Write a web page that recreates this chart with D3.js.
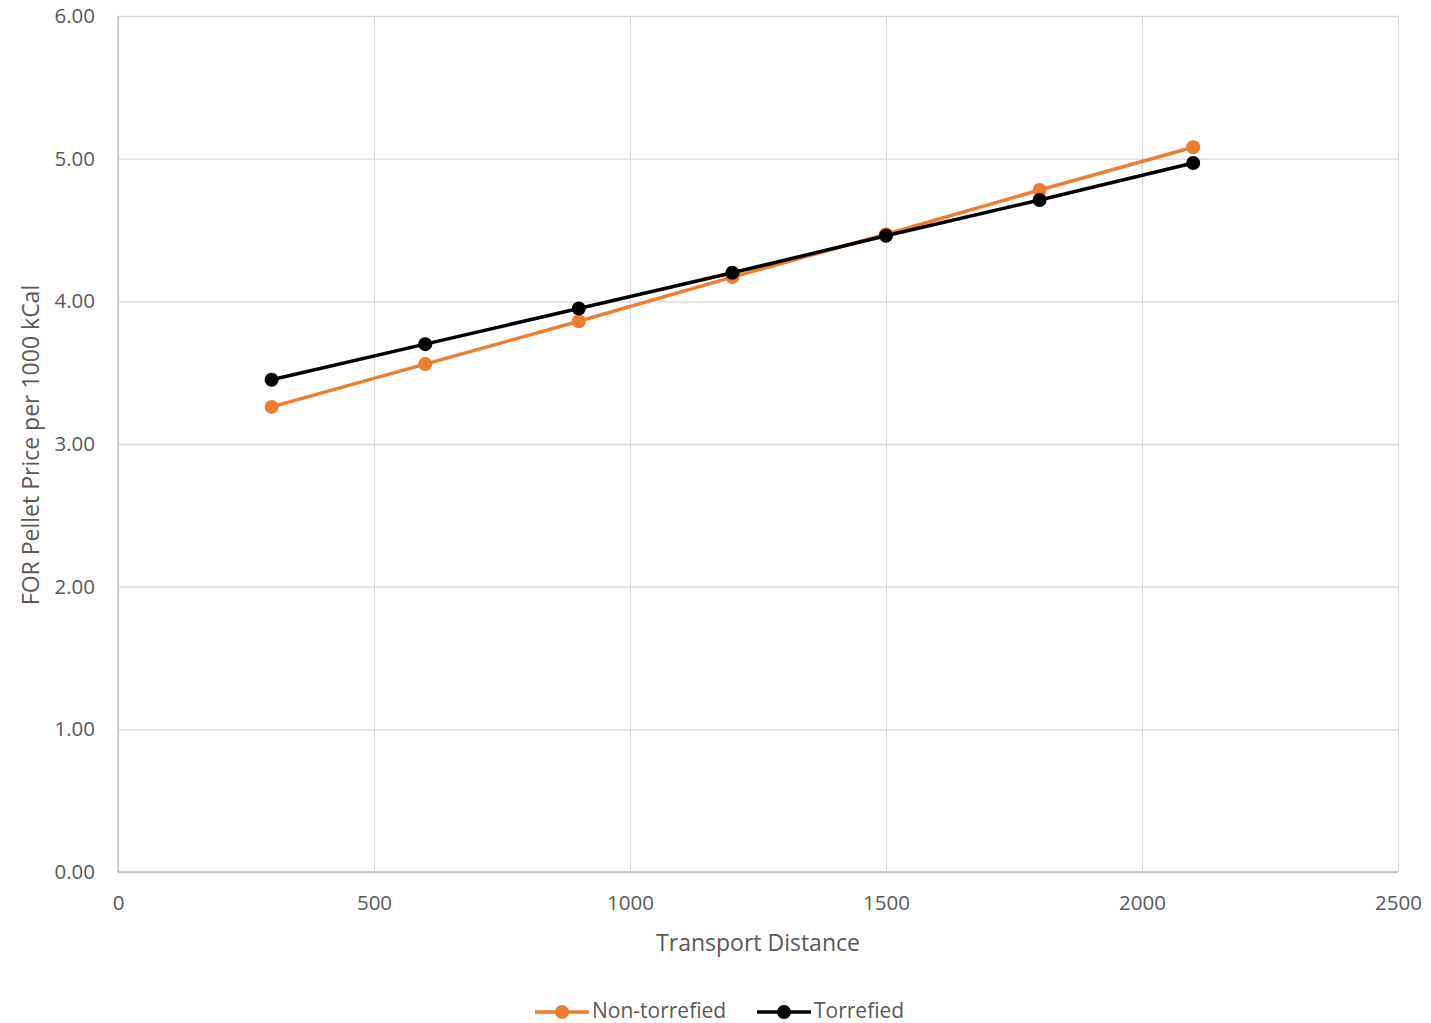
<!DOCTYPE html>
<html>
<head>
<meta charset="utf-8">
<script src="https://cdn.jsdelivr.net/npm/d3@7"></script>
<style>
  html, body { margin: 0; padding: 0; background: #ffffff; }
  svg text { font-family: "Open Sans", "Liberation Sans", sans-serif; fill: #595959; }
</style>
</head>
<body>
<svg id="chart" width="1431" height="1023"></svg>
<script>
// Transport distance (x) and FOR pellet price per 1000 kCal (y)
const distances = [300, 600, 900, 1200, 1500, 1800, 2100];
const nonTorrefied = [3.26, 3.56, 3.86, 4.17, 4.47, 4.78, 5.08];
const torrefied = [3.45, 3.70, 3.95, 4.20, 4.46, 4.71, 4.97];
const xTicks = [0, 500, 1000, 1500, 2000, 2500];
const yTicks = [0, 1, 2, 3, 4, 5, 6];
const seriesNames = ["Non-torrefied", "Torrefied"];
const seriesColors = ["#ED7D31", "#000000"];

const svg = d3.select("#chart");
const margin = { left: 118, right: 33, top: 16, bottom: 151 };
const W = 1431, H = 1023;

const x = d3.scaleLinear().domain([0, 2500]).range([margin.left, W - margin.right]);
const y = d3.scaleLinear().domain([0, 6]).range([H - margin.bottom, margin.top]);

// Horizontal gridlines
svg.append("g")
  .attr("transform", `translate(${margin.left},0)`)
  .call(d3.axisLeft(y).tickValues(yTicks).tickSize(-(W - margin.left - margin.right)).tickFormat(""))
  .call(g => g.select(".domain").remove())
  .call(g => g.selectAll("line").attr("stroke", "#d9d9d9").attr("stroke-width", 1.3));

// Vertical gridlines
svg.append("g")
  .attr("transform", `translate(0,${H - margin.bottom})`)
  .call(d3.axisBottom(x).tickValues(xTicks).tickSize(-(H - margin.top - margin.bottom)).tickFormat(""))
  .call(g => g.select(".domain").remove())
  .call(g => g.selectAll("line").attr("stroke", "#d9d9d9").attr("stroke-width", 1.3));

// Axis lines
svg.append("line")
  .attr("x1", x(0)).attr("x2", x(2500)).attr("y1", y(0)).attr("y2", y(0))
  .attr("stroke", "#bfbfbf").attr("stroke-width", 1.3);
svg.append("line")
  .attr("x1", x(0)).attr("x2", x(0)).attr("y1", y(0)).attr("y2", y(6))
  .attr("stroke", "#bfbfbf").attr("stroke-width", 1.3);

// Y tick labels
const yAxis = svg.append("g")
  .attr("transform", `translate(${margin.left},0)`)
  .call(d3.axisLeft(y).tickValues(yTicks).tickSize(0).tickPadding(23).tickFormat(d3.format(".2f")));
yAxis.select(".domain").remove();
yAxis.selectAll("text").style("font-size", "20.5px").attr("fill", "#595959");

// X tick labels
const xAxis = svg.append("g")
  .attr("transform", `translate(0,${H - margin.bottom})`)
  .call(d3.axisBottom(x).tickValues(xTicks).tickSize(0).tickPadding(23).tickFormat(d3.format("d")));
xAxis.select(".domain").remove();
xAxis.selectAll("text").style("font-size", "20.5px").attr("fill", "#595959");

// Axis titles
svg.append("text")
  .attr("x", (x(0) + x(2500)) / 2).attr("y", 951)
  .attr("text-anchor", "middle").style("font-size", "23px")
  .text("Transport Distance");
svg.append("text")
  .attr("transform", `translate(39,${(y(0) + y(6)) / 2 + 1}) rotate(-90)`)
  .attr("text-anchor", "middle").style("font-size", "23px")
  .text("FOR Pellet Price per 1000 kCal");

// Series lines and markers
const seriesData = [nonTorrefied, torrefied];
const line = d3.line().x((d, i) => x(distances[i])).y(d => y(d));
seriesData.forEach((vals, si) => {
  const g = svg.append("g");
  g.append("path").datum(vals)
    .attr("d", line).attr("fill", "none")
    .attr("stroke", seriesColors[si]).attr("stroke-width", 3.5)
    .attr("stroke-linejoin", "round");
  g.selectAll("circle").data(vals).join("circle")
    .attr("cx", (d, i) => x(distances[i])).attr("cy", d => y(d))
    .attr("r", 7).attr("fill", seriesColors[si]);
});

// Legend
const legend = svg.append("g").attr("transform", "translate(0,1011)");
const legendItems = [{ x0: 535, tx: 592 }, { x0: 757, tx: 814 }];
seriesNames.forEach((name, i) => {
  const it = legendItems[i];
  legend.append("line")
    .attr("x1", it.x0).attr("x2", it.x0 + 54).attr("y1", 1).attr("y2", 1)
    .attr("stroke", seriesColors[i]).attr("stroke-width", 3.5);
  legend.append("circle").attr("cx", it.x0 + 27).attr("cy", 1).attr("r", 7).attr("fill", seriesColors[i]);
  legend.append("text").attr("x", it.tx).attr("y", 0).attr("dy", "0.35em")
    .style("font-size", "21px").text(name);
});
</script>
</body>
</html>
